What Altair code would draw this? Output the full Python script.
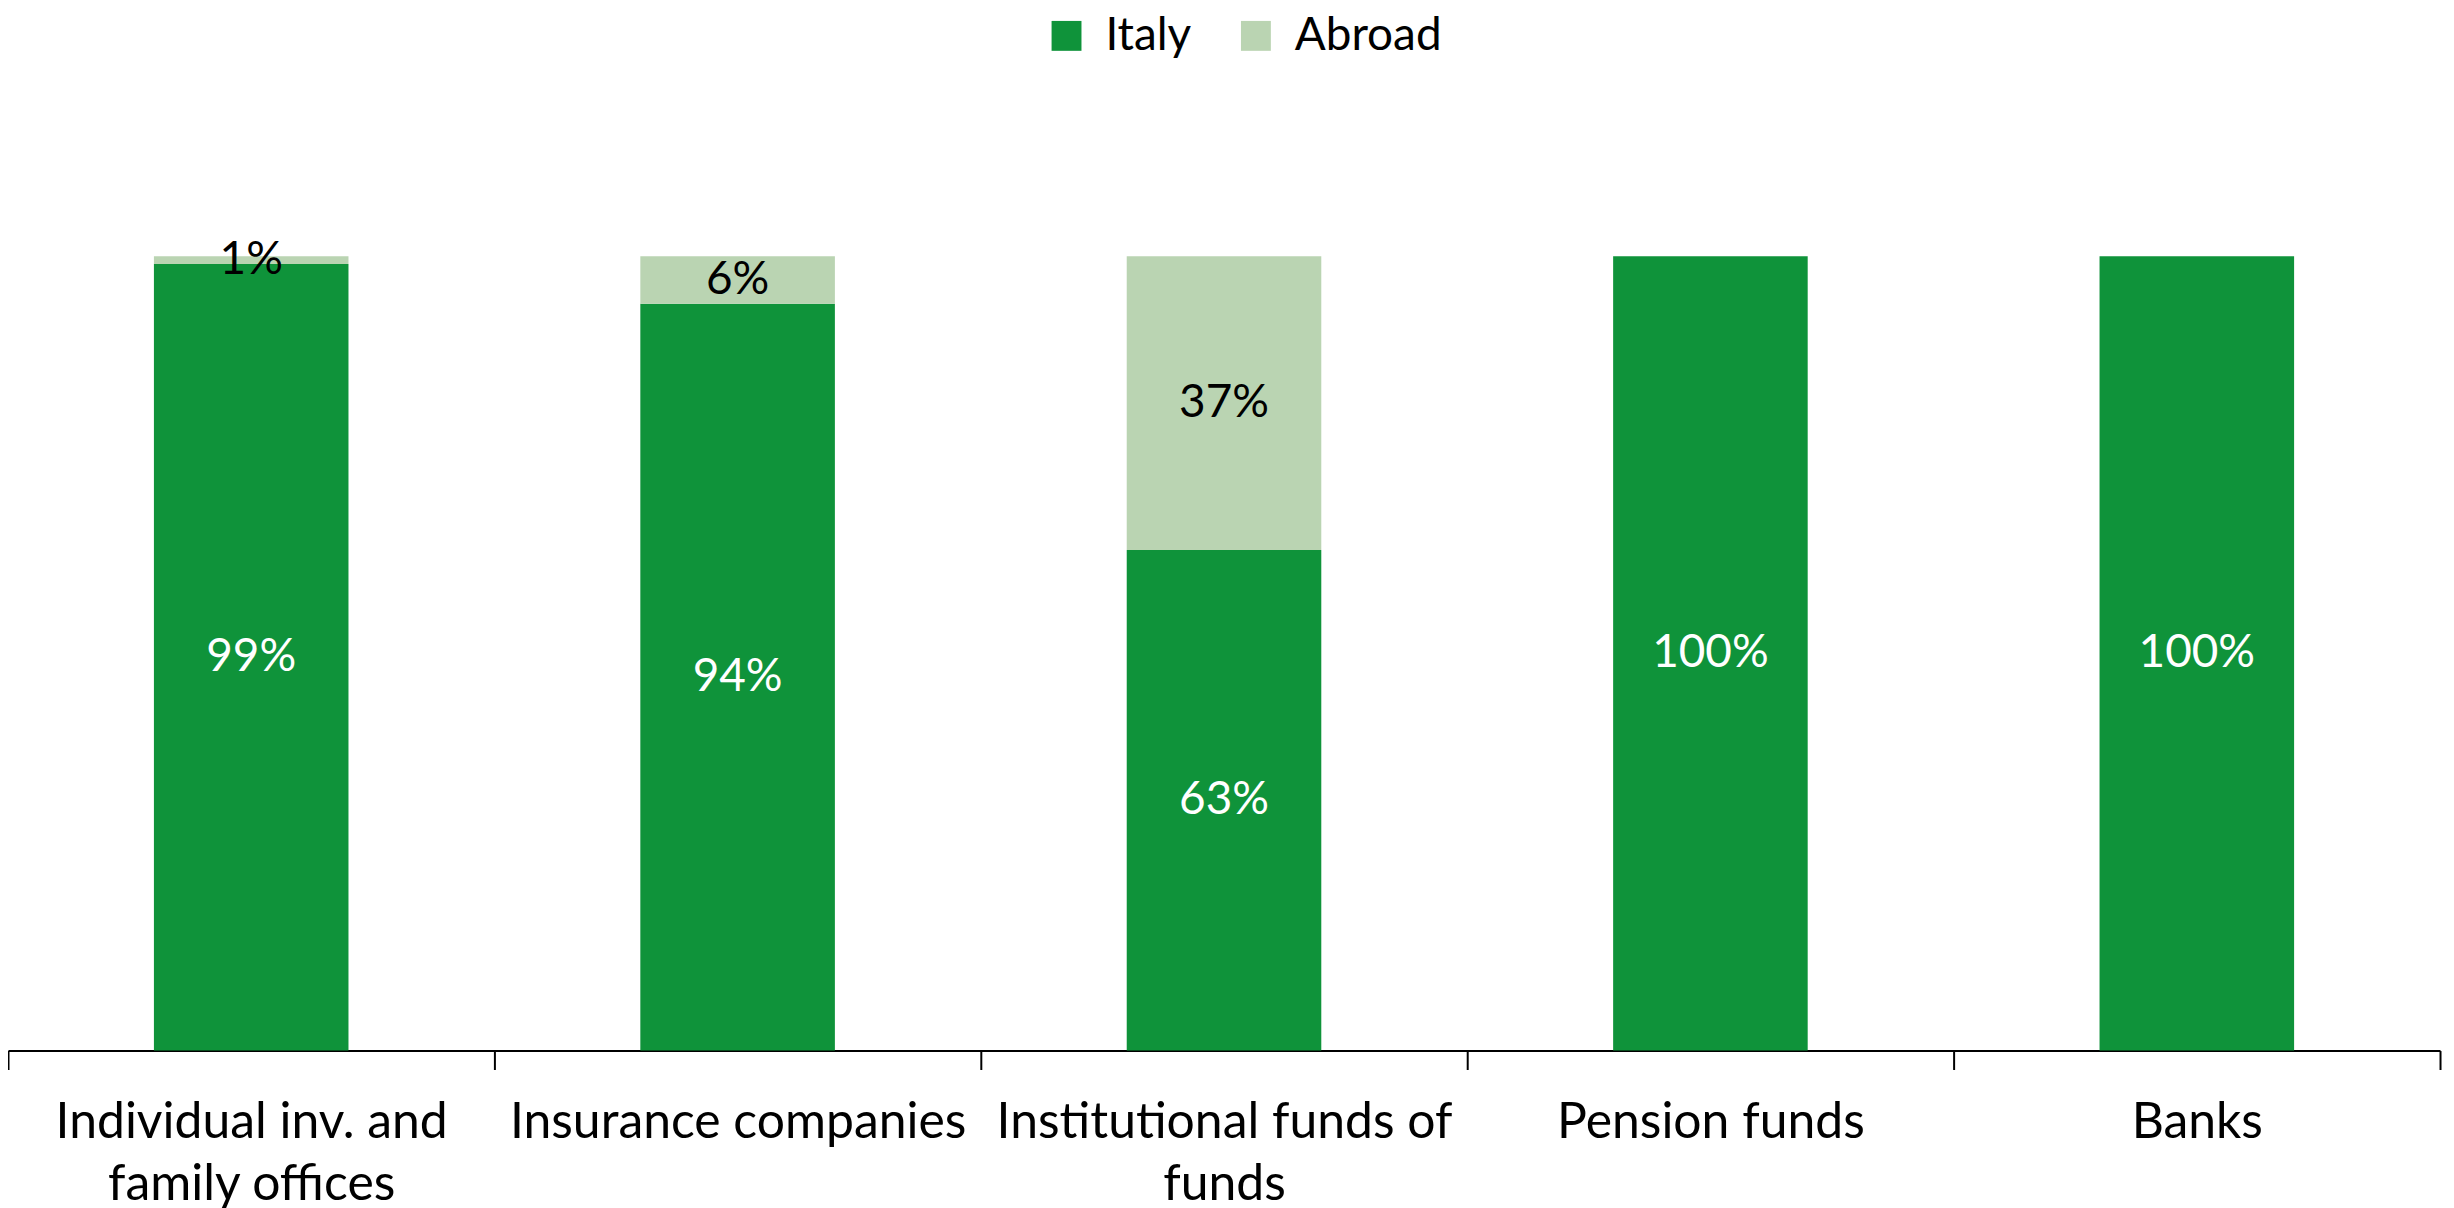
import altair as alt
import pandas as pd

categories = ["Individual inv. and|family offices", "Insurance companies",
              "Institutional funds of|funds", "Pension funds", "Banks"]
italy = [99, 94, 63, 100, 100]
abroad = [1, 6, 37, 0, 0]
series = ["Italy", "Abroad"]
colors = ["#0F933A", "#BAD4B2"]

rows = []
for i, c in enumerate(categories):
    rows.append({"cat": c, "series": "Italy", "ord": 0, "value": italy[i]})
    rows.append({"cat": c, "series": "Abroad", "ord": 1, "value": abroad[i]})
df = pd.DataFrame(rows)

FONT = "Lato"
FS = 46

xbar = alt.X("cat:N", sort=categories, title=None, axis=None,
             scale=alt.Scale(paddingInner=0.6, paddingOuter=0.3))

base = alt.Chart(df).transform_stack(
    stack="value", as_=["y0", "y1"], groupby=["cat"], sort=[alt.SortField("ord", order="ascending")]
).transform_calculate(mid="(datum.y0 + datum.y1) / 2",
                      lab="datum.value + '%'")

bars = base.mark_bar().encode(
    x=xbar,
    y=alt.Y("y0:Q", axis=None, scale=alt.Scale(domain=[0, 100], nice=False)),
    y2="y1:Q",
    color=alt.Color("series:N", sort=series,
                    scale=alt.Scale(domain=series, range=colors),
                    legend=alt.Legend(title=None, orient="none", direction="horizontal",
                                      legendX=1039, legendY=-244, symbolType="square",
                                      symbolSize=900, symbolStrokeWidth=0,
                                      labelFont=FONT, labelFontSize=FS, labelColor="black",
                                      labelOffset=16, columnPadding=41, padding=0)),
)

text = base.transform_filter("datum.value > 0").mark_text(
    font=FONT, fontSize=FS, baseline="middle", align="center"
).encode(
    x=xbar,
    y=alt.Y("mid:Q", scale=alt.Scale(domain=[0, 100], nice=False)),
    text="lab:N",
    color=alt.condition("datum.series == 'Italy'", alt.value("white"), alt.value("black")),
)

axis_layer = alt.Chart(pd.DataFrame({"cat": categories})).mark_point(opacity=0).encode(
    x=alt.X("cat:N", sort=categories, title=None,
            scale=alt.Scale(paddingInner=0, paddingOuter=0),
            axis=alt.Axis(labelAngle=0, labelFont=FONT, labelFontSize=50, labelColor="black",
                          labelExpr="split(datum.label, '|')", labelLineHeight=62,
                          labelPadding=28, labelLimit=0, labelOverlap=False,
                          domainColor="black", domainWidth=2, tickColor="black", tickWidth=2,
                          tickSize=19, tickBand="extent", grid=False)),
    y=alt.value(0),
)

chart = alt.layer(alt.layer(bars, text), axis_layer).resolve_scale(x="independent").properties(
    width=2440, height=797,
    autosize=alt.AutoSizeParams(type="none"),
    padding={"left": 0, "top": 247, "right": 6, "bottom": 156},
    background="white",
).configure_view(stroke=None)

chart.save("out.html", embed_options={"renderer": "svg", "actions": False})
